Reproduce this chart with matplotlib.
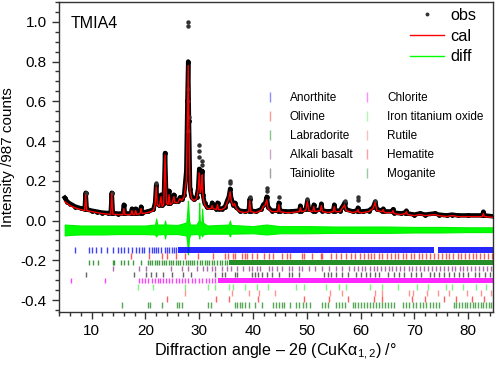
import matplotlib
matplotlib.use("Agg")
import matplotlib.pyplot as plt
from matplotlib.lines import Line2D
from matplotlib.ticker import MultipleLocator, FormatStrFormatter

plt.rcParams['font.family'] = ['Liberation Sans', 'DejaVu Sans']
plt.rcParams['mathtext.fontset'] = 'custom'
plt.rcParams['mathtext.rm'] = 'Liberation Sans'
plt.rcParams['mathtext.it'] = 'Liberation Sans:italic'
plt.rcParams['axes.unicode_minus'] = False

# calculated profile (2theta, intensity)
angle = [5.0, 5.5, 6.0, 7.0, 8.0, 8.7, 8.9, 9.1, 10.0, 11.0, 12.0, 13.0, 13.55, 13.75, 13.95,
         15.0, 15.8, 16.0, 16.2, 17.3, 17.5, 17.7, 18.0, 18.2, 18.4, 19.0, 19.2, 19.4, 20.5,
         21.5, 21.8, 22.0, 22.2, 22.6, 22.9, 23.1, 23.4, 23.65, 23.9, 24.2, 24.4, 24.6, 25.0,
         25.3, 25.5, 26.0, 26.4, 26.8, 27.2, 27.6, 27.8, 27.95, 28.1, 28.3, 28.6, 29.0, 29.5,
         29.8, 30.0, 30.2, 30.4, 30.55, 30.7, 31.0, 31.5, 32.2, 32.4, 32.6, 33.2, 33.4, 33.6,
         34.2, 34.8, 35.2, 35.5, 35.75, 35.95, 36.3, 36.6, 36.9, 37.5, 38.5, 39.2, 39.4, 39.6,
         40.5, 41.5, 41.9, 42.3, 42.55, 42.8, 43.5, 44.6, 44.8, 45.0, 46.0, 47.0, 48.6, 48.8,
         49.0, 49.8, 50.1, 50.4, 51.1, 51.3, 51.5, 52.5, 52.7, 52.9, 54.0, 54.9, 55.1, 55.3,
         56.2, 56.5, 56.8, 57.0, 57.3, 58.5, 59.3, 59.5, 59.7, 60.5, 61.5, 62.3, 62.7, 63.0,
         64.0, 64.2, 64.4, 65.8, 66.0, 66.2, 67.5, 68.3, 68.5, 68.7, 70.0, 71.0, 72.0, 73.8,
         74.5, 76.0, 77.0, 78.0, 80.0, 82.6, 82.8, 83.0, 85.0]
calc = [0.095, 0.085, 0.075, 0.063, 0.055, 0.05, 0.13, 0.05, 0.045, 0.04, 0.035, 0.032, 0.032, 0.135, 0.032,
        0.03, 0.03, 0.06, 0.03, 0.03, 0.05, 0.03, 0.03, 0.05, 0.03, 0.035, 0.06, 0.035, 0.04,
        0.05, 0.08, 0.17, 0.08, 0.07, 0.12, 0.07, 0.08, 0.33, 0.09, 0.08, 0.13, 0.08, 0.09,
        0.12, 0.09, 0.09, 0.11, 0.10, 0.12, 0.20, 0.50, 0.78, 0.45, 0.15, 0.11, 0.10, 0.11,
        0.15, 0.24, 0.14, 0.16, 0.23, 0.12, 0.08, 0.06, 0.06, 0.075, 0.06, 0.055, 0.08, 0.055,
        0.055, 0.065, 0.09, 0.11, 0.145, 0.10, 0.075, 0.085, 0.06, 0.045, 0.04, 0.045, 0.10, 0.045,
        0.04, 0.05, 0.07, 0.08, 0.105, 0.06, 0.045, 0.045, 0.08, 0.045, 0.04, 0.04, 0.045, 0.065,
        0.045, 0.05, 0.095, 0.05, 0.045, 0.07, 0.045, 0.05, 0.075, 0.045, 0.04, 0.045, 0.07, 0.045,
        0.045, 0.06, 0.07, 0.08, 0.05, 0.04, 0.045, 0.055, 0.04, 0.04, 0.045, 0.06, 0.09, 0.05,
        0.045, 0.055, 0.04, 0.04, 0.05, 0.035, 0.03, 0.035, 0.045, 0.03, 0.025, 0.03, 0.025, 0.03,
        0.025, 0.02, 0.025, 0.02, 0.02, 0.02, 0.035, 0.02, 0.015]
obs = [0.115, 0.095, 0.085, 0.07, 0.062, 0.056, 0.14, 0.056, 0.05, 0.045, 0.04, 0.038, 0.038, 0.14, 0.038,
       0.035, 0.036, 0.08, 0.036, 0.036, 0.06, 0.036, 0.036, 0.06, 0.036, 0.04, 0.07, 0.04, 0.046,
       0.056, 0.09, 0.18, 0.09, 0.076, 0.13, 0.076, 0.086, 0.34, 0.096, 0.086, 0.15, 0.086, 0.096,
       0.13, 0.096, 0.096, 0.116, 0.106, 0.13, 0.25, 0.6, 0.80, 0.5, 0.16, 0.116, 0.106, 0.116,
       0.16, 0.26, 0.15, 0.17, 0.25, 0.13, 0.086, 0.066, 0.066, 0.09, 0.066, 0.06, 0.09, 0.06,
       0.06, 0.07, 0.1, 0.12, 0.16, 0.11, 0.08, 0.09, 0.066, 0.05, 0.046, 0.05, 0.11, 0.05,
       0.046, 0.056, 0.08, 0.09, 0.12, 0.066, 0.05, 0.05, 0.09, 0.05, 0.046, 0.046, 0.05, 0.075,
       0.05, 0.056, 0.1, 0.056, 0.05, 0.08, 0.05, 0.056, 0.085, 0.05, 0.046, 0.05, 0.08, 0.05,
       0.05, 0.066, 0.076, 0.09, 0.056, 0.046, 0.05, 0.065, 0.046, 0.046, 0.05, 0.066, 0.095, 0.056,
       0.05, 0.06, 0.046, 0.046, 0.056, 0.04, 0.036, 0.04, 0.05, 0.036, 0.03, 0.036, 0.03, 0.036,
       0.03, 0.026, 0.03, 0.026, 0.026, 0.026, 0.045, 0.026, 0.02]
# isolated observed points above the band
obs_extra_x = [27.95, 27.95, 27.9, 28.05, 27.9, 28.0, 30.0, 30.05, 30.0, 30.55, 30.6, 35.75, 35.8,
               42.55, 42.6, 22.0, 39.4, 44.8, 50.1, 57.0, 59.5, 59.5, 62.7, 8.9, 13.75]
obs_extra_y = [1.0, 0.98, 0.6, 0.52, 0.45, 0.66, 0.38, 0.35, 0.32, 0.30, 0.28, 0.20, 0.19,
               0.165, 0.15, 0.19, 0.12, 0.12, 0.11, 0.10, 0.12, 0.105, 0.10, 0.14, 0.14]

# difference curve envelope (offset)
diff_x = [5.0, 6, 8, 10, 12, 15, 18, 20, 21.8, 22.0, 22.2, 23.5, 23.65, 23.8, 26, 27.6, 27.8, 27.9,
          28.0, 28.1, 28.3, 29.5, 29.9, 30.0, 30.1, 30.4, 30.55, 30.7, 31.5, 35.5, 35.7, 35.9, 40,
          42.5, 45, 50, 55, 60, 65, 70, 75, 80, 85]
diff_lo = [-0.075, -0.072, -0.07, -0.07, -0.07, -0.068, -0.068, -0.068, -0.07, -0.08, -0.07, -0.068,
           -0.09, -0.068, -0.068, -0.075, -0.12, -0.17, -0.13, -0.09, -0.07, -0.068, -0.07, -0.09,
           -0.07, -0.07, -0.08, -0.07, -0.066, -0.066, -0.08, -0.066, -0.064, -0.07, -0.064, -0.064,
           -0.062, -0.062, -0.062, -0.06, -0.06, -0.058, -0.058]
diff_hi = [-0.02, -0.022, -0.025, -0.025, -0.025, -0.025, -0.025, -0.025, -0.02, 0.01, -0.02, -0.02,
           0.0, -0.02, -0.022, -0.01, 0.05, 0.10, 0.06, 0.0, -0.02, -0.02, 0.0, 0.09, 0.0, -0.02,
           0.06, -0.01, -0.025, -0.02, 0.0, -0.022, -0.028, -0.02, -0.028, -0.028, -0.03, -0.03,
           -0.03, -0.032, -0.032, -0.034, -0.034]

# reflection positions per phase: single ticks and ranges where ticks merge
phase_names = ["Anorthite", "Olivine", "Labradorite", "Alkali basalt", "Tainiolite",
               "Chlorite", "Iron titanium oxide", "Rutile", "Hematite", "Moganite"]
phase_colors = ['#0000ff', '#ff2020', '#007a00', '#8e3c8e', '#303030',
                '#ff00ff', '#55ee55', '#ff7070', '#ff2a2a', '#1f8a1f']
anorthite = [7.0, 9.5, 10.1, 10.75, 11.7, 12.9, 13.9, 15.0, 15.4, 16.05, 16.7, 17.6, 18.2, 18.9,
             19.4, 19.8, 20.7, 21.2, 21.6, 22.0, 22.4, 22.9, 23.6, 24.0, 24.4, 24.9, 25.3, 25.7]
anorthite_bands = [(26.0, 73.6), (74.3, 85.0)]
olivine = [17.4, 20.7, 23.1, 24.0, 25.6, 27.4, 29.8, 32.6, 34.8, 35.4, 36.3, 36.6, 37.9, 38.5,
           38.8, 39.8, 40.7, 42.0, 42.9, 43.8, 45.4, 46.3, 46.9, 49.1, 49.5, 51.0, 52.6, 52.9,
           54.4, 55.4, 56.3, 57.2, 58.2, 59.0, 59.8, 60.6, 61.3, 61.9, 62.5, 63.4, 64.0, 64.9,
           65.6, 66.3, 67.0, 67.8, 68.5, 69.3, 70.0, 70.8, 71.4, 72.2, 72.9, 73.6, 74.3, 75.1,
           75.8, 76.5, 77.2, 78.0, 78.6, 79.3, 80.1, 80.8, 81.5, 82.2, 83.0, 83.7, 84.4]
olivine_bands = []
labradorite = [9.5, 10.25, 11.1, 13.9, 14.2, 15.4, 16.05, 16.7, 17.7, 19.2, 20.4, 20.8, 21.3,
               21.7, 22.1, 22.6, 23.0, 23.5, 23.9, 24.3, 24.7, 25.1, 25.6, 26.0, 26.5, 27.0,
               27.5, 27.9, 28.3, 28.7, 29.1, 29.6, 30.1, 30.5, 31.0, 31.4, 31.9, 32.3, 32.8,
               33.3, 33.8, 34.2, 34.7, 35.1]
labradorite_bands = [(35.5, 85.0)]
alkali_basalt = [13.9, 18.9, 20.1, 24.8, 26.8, 27.9, 29.5, 30.7, 31.4, 32.3, 32.9, 34.2, 35.1,
                 36.0, 37.0, 38.2, 39.2, 39.8, 40.7, 41.3, 42.9, 43.5, 44.5, 45.4, 46.6, 47.3,
                 48.5, 49.1, 50.4, 51.6, 52.9, 54.1, 55.4, 56.6, 57.9, 58.7, 59.5, 60.2, 60.9,
                 61.7, 62.4, 63.0, 63.8, 64.5, 65.2, 65.9, 66.6, 67.4, 68.1, 68.9, 69.6, 70.3,
                 71.0, 71.8, 72.5, 73.2, 74.0, 74.7, 75.4, 76.2, 76.9, 77.6, 78.4, 79.1, 79.8,
                 80.6, 81.3, 82.0, 82.8, 83.5, 84.2]
alkali_basalt_bands = []
tainiolite = [8.9, 17.9, 20.1, 21.0, 21.9, 23.2, 25.0, 27.0, 28.5, 32.9, 34.2, 34.8, 36.7, 37.0,
              39.8, 40.4, 41.0, 41.6, 42.6, 43.5, 44.8, 46.6, 47.3, 48.5, 53.2, 53.9, 54.5,
              55.4, 56.6, 57.6, 59.2, 60.1, 61.0, 61.8, 62.6, 63.5, 65.0, 66.2, 67.1, 68.0,
              69.4, 70.3, 71.2, 72.8, 73.7, 74.6, 75.5, 76.4, 77.3, 78.2, 79.0, 80.0, 81.2,
              82.0, 83.1, 84.0]
tainiolite_bands = []
chlorite = [6.2, 12.5, 18.9, 19.4, 20.0, 20.5, 21.2, 21.7, 22.3, 22.8, 23.3, 23.8, 24.4, 25.0,
            25.6, 26.2, 26.8, 27.4, 28.0, 28.6, 29.3, 29.9, 30.5, 31.2, 31.8, 32.4, 33.0]
chlorite_bands = [(33.5, 85.0)]
iron_titanium_oxide = [18.6, 21.4, 27.4, 31.7, 33.0, 35.6, 36.3, 38.5, 40.7, 42.8, 47.9, 49.5,
                       53.5, 56.0, 57.3, 61.8, 63.9, 67.0, 70.5, 72.5, 75.9, 77.0, 79.1, 81.5, 83.3]
iron_titanium_oxide_bands = []
rutile = [27.45, 36.1, 39.2, 41.2, 44.05, 54.3, 56.6, 62.7, 64.0, 69.0, 69.8, 72.4, 74.4,
          76.5, 79.8, 82.3, 84.2]
rutile_bands = []
hematite = [24.1, 33.15, 35.6, 40.85, 49.45, 54.05, 57.6, 62.45, 64.0, 69.6, 72.0, 75.4, 77.7,
            80.7, 82.9, 84.9]
hematite_bands = []
moganite = [15.7, 20.5, 20.9, 23.0, 25.8, 26.2, 26.8, 31.6, 32.2, 36.6, 37.0, 37.5, 38.0, 38.6,
            39.2, 40.3, 41.6, 43.8, 44.3, 44.8, 45.4, 45.8, 46.9, 48.0, 48.6, 49.2, 49.8, 50.5,
            52.8, 53.3, 54.0, 55.4, 55.9, 56.5, 57.1, 58.5, 59.0, 59.5, 60.0, 60.6, 61.2, 61.8,
            62.3, 62.8, 63.4, 64.0, 64.5, 65.0, 65.6, 66.2, 67.8, 68.4, 69.0, 69.7, 70.3, 71.0,
            71.6, 72.2, 72.8, 73.4, 74.0, 74.6, 77.3, 77.8, 78.3, 78.8, 79.3, 79.8, 80.3, 80.8,
            81.3, 81.8, 82.3, 82.8, 83.3, 83.8, 84.3, 84.8]
moganite_bands = []

phase_ticks = [anorthite, olivine, labradorite, alkali_basalt, tainiolite,
               chlorite, iron_titanium_oxide, rutile, hematite, moganite]
phase_bands = [anorthite_bands, olivine_bands, labradorite_bands, alkali_basalt_bands,
               tainiolite_bands, chlorite_bands, iron_titanium_oxide_bands, rutile_bands,
               hematite_bands, moganite_bands]

assert len(angle) == len(calc) == len(obs), (len(angle), len(calc), len(obs))

fig = plt.figure(figsize=(4.98, 3.71), dpi=100)
ax = fig.add_axes([0.118, 0.159, 0.872, 0.836])

# difference
ax.fill_between(diff_x, diff_lo, diff_hi, color='#00ff00', lw=0.8, edgecolor='#00ee00', zorder=2)

# observed band and extra points
ax.plot(angle, obs, color='black', lw=3.2, solid_joinstyle='round', zorder=3)
ax.plot(angle, obs, ls='none', marker='o', ms=2.5, color='black', zorder=3)
ax.plot(obs_extra_x, obs_extra_y, ls='none', marker='o', ms=2.2, color='#333333', zorder=3)
# calculated
ax.plot(angle, calc, color='#ff0000', lw=1.0, zorder=4)

# reflection markers
row_top = -0.135
row_step = 0.0305
row_h = 0.029
for i, (pos, bands, col) in enumerate(zip(phase_ticks, phase_bands, phase_colors)):
    top = row_top - i * row_step
    ax.vlines(pos, top - row_h, top, colors=col, lw=1.0, alpha=0.75, zorder=2)
    if bands:
        ax.broken_barh([(a, b - a) for a, b in bands], (top - row_h, row_h),
                       facecolors=col, alpha=0.85, zorder=2)

ax.set_xlim(3.9, 84.6)
ax.set_ylim(-0.46, 1.1)
ax.xaxis.set_major_locator(MultipleLocator(10))
ax.xaxis.set_minor_locator(MultipleLocator(2))
ax.yaxis.set_major_locator(MultipleLocator(0.2))
ax.yaxis.set_minor_locator(MultipleLocator(0.05))
ax.yaxis.set_major_formatter(FormatStrFormatter('%.1f'))
ax.tick_params(which='both', direction='out', top=False, right=False, labelsize=11,
               color='#333333', width=1.0)
ax.tick_params(which='major', length=5)
ax.tick_params(which='minor', length=3)
for s in ax.spines.values():
    s.set_color('#333333')
    s.set_linewidth(1.0)

ax.set_xlabel(r"Diffraction angle – 2θ (CuKα$_{1,2}$) /°", fontsize=11.6, labelpad=3)
ax.set_ylabel("Intensity /987 counts", fontsize=11, labelpad=4)
ax.text(0.027, 0.93, "TMIA4", transform=ax.transAxes, fontsize=11.5, va='center', ha='left')

main_handles = [
    Line2D([], [], ls='none', marker='o', ms=1.8, color='#333333'),
    Line2D([], [], color='#ff0000', lw=1.0),
    Line2D([], [], color='#00ff00', lw=1.0),
]
leg1 = ax.legend(main_handles, ["obs", "cal", "diff"], loc='upper left',
                 bbox_to_anchor=(0.809, 0.98), frameon=False,
                 fontsize=11.7, handlelength=2.1, handletextpad=0.4, labelspacing=0.35,
                 borderaxespad=0, borderpad=0)
ax.add_artist(leg1)

phase_handles = [Line2D([], [], ls='none', marker='|', ms=7, mew=1.0, color=c, alpha=0.45)
                 for c in phase_colors]
ax.legend(phase_handles, phase_names, ncol=2, loc='upper left', bbox_to_anchor=(0.472, 0.71),
          frameon=False, fontsize=8.5, handlelength=1.0, handletextpad=1.2, labelspacing=0.6,
          columnspacing=0.75, borderpad=0, borderaxespad=0)

fig.savefig("out.png", dpi=100)
